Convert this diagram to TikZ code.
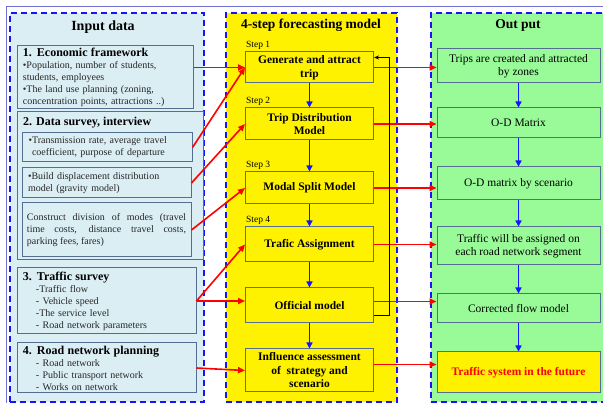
\documentclass[tikz,border=0pt]{standalone}
\usepackage{fontspec}
\setmainfont{Liberation Serif}
\usetikzlibrary{positioning,arrows.meta}

\definecolor{inputfill}{RGB}{219,238,244}
\definecolor{outfill}{RGB}{152,251,152}
\definecolor{boxline}{RGB}{84,110,145}
\definecolor{framecol}{RGB}{112,112,208}
\definecolor{panelblue}{RGB}{20,20,255}

\begin{document}
\begin{tikzpicture}[
  x=1pt, y=-1pt,
  font=\fontsize{10}{12}\selectfont,
  panel/.style={draw=panelblue, line width=1.5pt, dash pattern=on 6pt off 4pt},
  paneltitle/.style={font=\bfseries\fontsize{13.5}{16}\selectfont, inner sep=0pt},
  inbox/.style={draw=boxline, line width=1pt, fill=inputfill, align=left, inner xsep=6pt, inner ysep=2pt,
    text=black!85},
  stepbox/.style={draw=boxline, line width=1pt, fill=yellow, align=center, minimum width=128,
    inner sep=1pt, font=\bfseries\fontsize{11.5}{13.5}\selectfont},
  steplbl/.style={anchor=south west, inner sep=1pt, font=\fontsize{9.5}{11}\selectfont},
  outbox/.style={draw=boxline, line width=1pt, fill=outfill, align=center, minimum width=163,
    inner sep=1pt, font=\fontsize{11.5}{13}\selectfont},
  redarrow/.style={red, line width=1.6pt, -{Triangle[length=7pt,width=6pt]}},
  bluearrow/.style={panelblue, line width=1.8pt, -{Triangle[length=6pt,width=6pt]}},
  feedback/.style={black, line width=1pt, -{Stealth[length=5pt,width=4pt]}},
]
  \useasboundingbox (0,0) rectangle (603,403);
  \clip (0,0) rectangle (603,403);
  \draw[framecol, line width=0.8pt] (6,6) rectangle (640,440);

  % three columns
  \node[panel, fill=inputfill, minimum width=194, minimum height=389] (inpanel) at (107,207.5) {};
  \node[panel, fill=yellow, minimum width=171, minimum height=389] (modpanel) at (311.5,207.5) {};
  \node[panel, fill=outfill, minimum width=181, minimum height=389] (outpanel) at (521.5,207.5) {};

  \node[paneltitle, font=\bfseries\fontsize{14}{16}\selectfont] (intitle) at (103,27) {Input data};
  \node[paneltitle] (modtitle) at (311,25) {4-step forecasting model};
  \node[paneltitle] (outtitle) at (518,25) {Out put};

  % input data
  \node[inbox, minimum width=176, minimum height=62, text width=164] (econ) at (105,77)
    {{\bfseries\fontsize{12}{14}\selectfont\color{black} 1. Economic framework}\\
     •Population, number of students,\\
     students, employees\\
     •The land use planning (zoning,\\
     concentration points, attractions ..)};
  \node[inbox, minimum width=186, minimum height=148] (survey) at (110,186) {};
  \node[anchor=west, inner sep=0pt, font=\bfseries\fontsize{12}{14}\selectfont] (surveytitle) at (23,123)
    {2. Data survey, interview};
  \node[inbox, minimum width=170, minimum height=29, text width=157, inner xsep=6.5pt] (rate) at (107,147.5)
    {•Transmission rate, average travel\\
     \phantom{•}coefficient, purpose of departure};
  \node[inbox, minimum width=169, minimum height=30, text width=157] (gravity) at (106.5,183)
    {•Build displacement distribution\\
     model (gravity model)};
  \node[inbox, minimum width=169, minimum height=54, text width=159, inner xsep=5pt, align=justify] (modes) at (106.5,230)
    {Construct division of modes (travel\linebreak
     time costs, distance travel costs,\linebreak
     parking fees, fares)};
  \node[inbox, minimum width=179, minimum height=66, text width=167] (traffic) at (106.5,301)
    {{\bfseries\fontsize{12}{14}\selectfont\color{black} 3. Traffic survey}\\
     \hspace*{13pt}-Traffic flow\\
     \hspace*{13pt}- Vehicle speed\\
     \hspace*{13pt}-The service level\\
     \hspace*{13pt}- Road network parameters};
  \node[inbox, minimum width=179, minimum height=50, text width=167] (roadnet) at (106.5,368)
    {{\bfseries\fontsize{12}{14}\selectfont\color{black} 4. Road network planning}\\
     \hspace*{13pt}- Road network\\
     \hspace*{13pt}- Public transport network\\
     \hspace*{13pt}- Works on network};

  % forecasting steps
  \node[stepbox, minimum height=31] (gen) at (309.5,67.5) {Generate and attract\\trip};
  \node[stepbox, minimum height=32] (dist) at (309.5,124) {Trip Distribution\\Model};
  \node[stepbox, minimum height=32] (split) at (309.5,188) {Modal Split Model};
  \node[stepbox, minimum height=35] (assign) at (309.5,244.5) {Trafic Assignment};
  \node[stepbox, minimum height=35] (official) at (309.5,305.5) {Official model};
  \node[stepbox, minimum height=43] (impact) at (309.5,370.5) {Influence assessment\\of\ \ strategy and\\scenario};

  \node[steplbl] (step1) at ([yshift=1pt]gen.north west) {Step 1};
  \node[steplbl] (step2) at ([yshift=1pt]dist.north west) {Step 2};
  \node[steplbl] (step3) at ([yshift=1pt]split.north west) {Step 3};
  \node[steplbl] (step4) at ([yshift=1pt]assign.north west) {Step 4};

  % outputs
  \node[outbox, minimum height=34] (trips) at (518.5,66) {Trips are created and attracted\\by zones};
  \node[outbox, minimum height=30] (odm) at (518.5,123) {O-D Matrix};
  \node[outbox, minimum height=33] (odscen) at (518.5,183.5) {O-D matrix by scenario};
  \node[outbox, minimum height=38] (assigned) at (518.5,246) {Traffic will be assigned on\\each road network segment};
  \node[outbox, minimum height=29] (corrected) at (518.5,308.5) {Corrected flow model};
  \node[outbox, minimum height=41, fill=yellow, text=red, font=\bfseries\fontsize{11.5}{13}\selectfont] (future) at (518.5,372.5)
    {Traffic system in the future};

  % flow down each column
  \foreach \a/\b in {gen/dist, dist/split, split/assign, assign/official, official/impact,
                     trips/odm, odm/odscen, odscen/assigned, assigned/corrected, corrected/future}
    \draw[bluearrow] (\a) -- (\b);

  % inputs into the model
  \draw[redarrow] (econ.east |- gen.west) -- (gen.west);
  \draw[redarrow] (rate.east) -- (gen.west);
  \draw[redarrow] (gravity.east) -- (dist.west);
  \draw[redarrow] (modes.east) -- (split.west);
  \draw[redarrow] (traffic.east) -- (assign.west);
  \draw[redarrow] (traffic.east) -- (traffic.east -| official.west);
  \draw[redarrow] (roadnet.east) -- (impact.west);

  % model into outputs
  \draw[redarrow] (gen.east) -- (gen.east -| trips.west);
  \draw[redarrow] (dist.east) -- (dist.east -| odm.west);
  \draw[redarrow] (split.east) -- (split.east -| odscen.west);
  \draw[redarrow] (assign.east) -- (assign.east -| assigned.west);
  \draw[redarrow] ([yshift=4pt]official.east) -- ([yshift=4pt]official.east -| corrected.west);
  \draw[redarrow] ([yshift=6pt]impact.east) -- ([yshift=6pt]impact.east -| future.west);

  % calibration loop back to step 1
  \coordinate (loop) at (389,0);
  \draw[feedback] ([yshift=-10pt]official.east) -- ([yshift=-10pt]official.east -| loop)
    -- ([yshift=10pt]gen.east -| loop) -- ([yshift=10pt]gen.east);
\end{tikzpicture}
\end{document}
